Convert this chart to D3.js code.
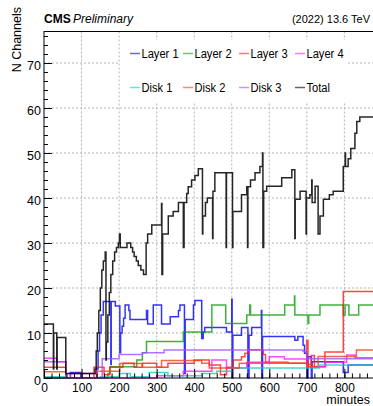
<!DOCTYPE html>
<html><head><meta charset="utf-8">
<script src="https://cdn.jsdelivr.net/npm/d3@7"></script>
<style>body{margin:0;background:#fff}svg{display:block}text{font-family:"Liberation Sans",Arial,Helvetica,sans-serif;fill:#000}</style>
</head><body>
<svg id="c" width="373" height="406"></svg>
<script>
// ---- data ----
const xTickValues = [0,100,200,300,400,500,600,700,800];
const yTickValues = [0,10,20,30,40,50,60,70];
const seriesNames = ["Layer 1","Layer 2","Layer 3","Layer 4","Disk 1","Disk 2","Disk 3","Total"];
const seriesColors = ["#0000ff","#109e10","#ff1a1a","#ff1aff","#1ac8c8","#e8441a","#a050ff","#000000"];

const layer1T = [0,70,98,140,144,148,152,158,178,179,190,202,204,208,212,216,226,229,273,276,291,313,336,358,362,374,376,398,402,420,424,428,486,500,501,503,526,543,546,553,579,580,582,668,676,690,694,700,703,712,714,797,810,880];
const layer1V = [0,1.2,0,2,6,10,14,17,3,17,16,5.6,10,11.5,13.3,16.2,15,13,15,12,16.2,12,13.6,15,16.2,1,13,16.2,17.2,8.8,10.2,11.2,10.2,17.5,0,9.5,11.2,0,9.5,11.2,15,0,9.2,8.4,9.2,7.3,5.5,0,4.7,0,3.6,1.2,2.9,2.9];

const layer2T = [0,170,176,247,262,273,371,447,484,540,548,550,641,667,668,703,705,735,797,802,812,838,880];
const layer2V = [0,1,2.5,4,5.6,8.1,10.2,16.2,12.1,14,16.2,14,16.2,18.2,14,12.1,14,16.2,14,16.2,14,16.2,16.2];

const layer3T = [0,58,133,160,175,210,240,262,300,330,400,440,470,486,504,526,535,544,584,590,650,700,703,712,720,748,797,880];
const layer3V = [2.4,0,2.4,0.7,2.4,3.3,2.4,3.3,2.4,3.3,4,2.9,0.7,2.4,4,4.7,5.5,6.3,5.2,3.5,3.3,8.4,3,5,2.5,5.8,19.2,19.2];

const layer4T = [0,34,58,71,141,300,371,447,486,540,600,640,700,750,806,828,880];
const layer4V = [4.4,3.6,0,1,0,0.5,1.5,4,2.2,3.5,4.7,4.2,2.5,3.5,5.1,4.5,4.5];

const disk1T = [0,58,150,200,230,280,330,420,460,504,734,880];
const disk1V = [0.3,0,0.3,1,0.3,1.2,0.5,1,1.5,2.2,2.9,2.9];

const disk2T = [0,58,142,202,262,313,420,440,520,700,730,832,880];
const disk2V = [1.4,0,1.5,3.2,2.4,3.9,3.3,2.2,3.3,2.5,4.8,6.2,6.2];

const disk3T = [0,58,155,200,262,320,690,700,880];
const disk3V = [3.6,0,4.3,5.2,5.6,6.2,5.9,4.3,4.3];

const totalT = [0,25,26,34,35,58,136,139,142,146,150,154,158,163,165,166,170,174,178,183,188,193,198,201,203,221,231,236,240,246,251,258,265,272,276,287,313,314,316,331,344,358,371,373,380,384,393,402,411,422,423,430,435,449,450,455,485,486,502,503,526,540,542,543,550,562,575,582,583,585,593,633,660,668,669,682,698,699,708,713,714,722,730,735,744,760,770,797,802,803,810,817,828,833,841,880];
const totalV = [12,2,10,2,9,1,2,6,10,15,20,24,26,28,4,8,14,19,23,26,28,29,30,32,29,30,29,28,27,26,25,24,23,30,32,34,38.8,23,32,36,37,39,29,39,41,42.5,44,45,46.5,32,36,39,40,31,41.5,45.6,29,45.6,29,37,40.7,42.5,29,42.5,44,45.6,47,50,29,41.5,42.6,44.5,46.3,31,39.7,41.5,32,40,40.7,44,39,42.6,32,36,39.7,40.7,41.5,47,50,47,48.7,51,54.4,57,58,58];

const seriesT = [layer1T,layer2T,layer3T,layer4T,disk1T,disk2T,disk3T,totalT];
const seriesV = [layer1V,layer2V,layer3V,layer4V,disk1V,disk2V,disk3V,totalV];

// ---- chart ----
const svg = d3.select("#c");
const X0 = 44, Y0 = 378, YT = 31.5;
const x = d3.scaleLinear().domain([0,880]).range([X0, X0 + 880*0.3755]);
const y = d3.scaleLinear().domain([0,77]).range([Y0, YT]);
const xr = x.range()[1];

// grid
const grid = svg.append("g").attr("stroke","#b4b4b4").attr("stroke-dasharray","2,2").attr("stroke-width",1);
xTickValues.filter(d=>d>0).forEach(d=>grid.append("line").attr("x1",x(d)).attr("x2",x(d)).attr("y1",YT).attr("y2",Y0));
yTickValues.filter(d=>d>0).forEach(d=>grid.append("line").attr("x1",X0).attr("x2",xr).attr("y1",y(d)).attr("y2",y(d)));

// legend background
svg.append("rect").attr("x",120).attr("y",40).attr("width",228).attr("height",62).attr("fill","#fff");

// series
const line = d3.line().x(d=>x(d[0])).y(d=>y(d[1])).curve(d3.curveStepAfter);
const plot = svg.append("g");
seriesT.forEach((ts,i)=>{
  const pts = ts.map((t,j)=>[t, seriesV[i][j]]);
  plot.append("path").attr("d",line(pts)).attr("fill","none")
    .attr("stroke",seriesColors[i]).attr("stroke-width",1.5)
    .attr("stroke-opacity", i===7?0.85:0.8);
});

// axes (ticks inside)
const fontSize = "12.5px";
const xMinor = d3.range(0,881,20);
const yMinor = d3.range(0,77,2);
svg.append("g").attr("transform",`translate(0,${Y0})`)
  .call(d3.axisBottom(x).tickValues(xMinor).tickSize(-4.5).tickFormat(""))
  .call(g=>g.select(".domain").remove());
svg.append("g").attr("transform",`translate(0,${Y0})`)
  .call(d3.axisBottom(x).tickValues(xTickValues).tickSize(-9).tickPadding(5).tickFormat(d3.format("d")))
  .call(g=>g.select(".domain").remove())
  .call(g=>g.selectAll("text").attr("font-size","12px").attr("font-family",null));
svg.append("g").attr("transform",`translate(${X0},0)`)
  .call(d3.axisLeft(y).tickValues(yMinor).tickSize(-4).tickFormat(""))
  .call(g=>g.select(".domain").remove());
svg.append("g").attr("transform",`translate(${X0},0)`)
  .call(d3.axisLeft(y).tickValues(yTickValues).tickSize(-8).tickPadding(3).tickFormat(d3.format("d")))
  .call(g=>g.select(".domain").remove())
  .call(g=>g.selectAll("text").attr("font-size",fontSize).attr("font-family",null).attr("dy","0.5em"));
svg.selectAll(".tick line").attr("stroke","#000");

// frame
svg.append("rect").attr("x",X0).attr("y",YT).attr("width",xr-X0).attr("height",Y0-YT)
  .attr("fill","none").attr("stroke","#000").attr("stroke-width",1);

// titles
svg.append("text").attr("x",44).attr("y",22.5).attr("font-size","12px").attr("font-weight","bold").text("CMS");
svg.append("text").attr("x",73).attr("y",22.5).attr("font-size","12px").attr("font-style","italic").text("Preliminary");
svg.append("text").attr("x",370).attr("y",22.5).attr("font-size","11px").attr("text-anchor","end").text("(2022) 13.6 TeV");
svg.append("text").attr("transform","translate(21,7) rotate(-90)").attr("font-size","12.5px").attr("text-anchor","end").text("N Channels");
svg.append("text").attr("x",370).attr("y",404).attr("font-size","12.5px").attr("text-anchor","end").text("minutes");

// legend
const legX = [130,183,239,295];
const legY = [53.5,87.5];
seriesNames.forEach((n,i)=>{
  const lx = legX[i%4], ly = legY[Math.floor(i/4)];
  svg.append("line").attr("x1",lx).attr("x2",lx+10).attr("y1",ly).attr("y2",ly)
    .attr("stroke",seriesColors[i]).attr("stroke-width",1.5).attr("stroke-opacity",0.6);
  svg.append("text").attr("transform",`translate(${lx+11.5},${ly+4.3}) scale(0.89,1)`)
    .attr("font-size","12.5px").text(n);
});
</script>
</body></html>
